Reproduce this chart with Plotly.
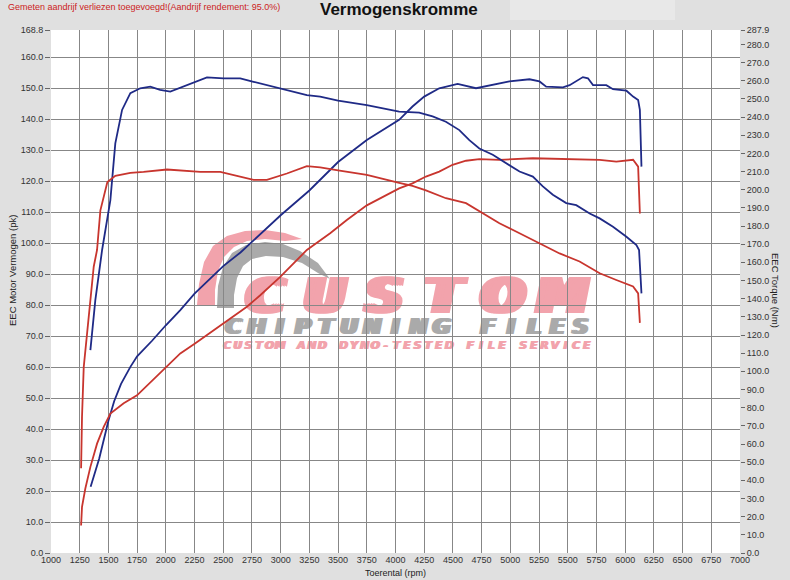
import plotly.graph_objects as go

# --- data ---
# torque curves (right axis, Nm)
blue_tq_rpm = [1343, 1386, 1445, 1517, 1560, 1619, 1691, 1777, 1865, 1950, 2039, 2184, 2358, 2503, 2648,
               2764, 2880, 3054, 3228, 3344, 3500, 3750, 4032, 4206, 4323, 4439, 4556, 4643, 4730, 4847,
               4963, 5080, 5196, 5283, 5370, 5487, 5574, 5691, 5778, 5894, 6011, 6098, 6121, 6133, 6142]
blue_tq_nm = [111.7, 139.2, 166.8, 194.3, 225.5, 243.9, 253.1, 255.8, 256.7, 255.0, 254.0, 257.5, 261.8, 261.3, 261.3,
              259.4, 257.5, 254.8, 252.1, 251.2, 249.0, 246.6, 243.0, 242.4, 240.3, 237.4, 232.8, 227.3, 222.7, 219.2,
              214.6, 210.0, 207.2, 201.8, 197.2, 192.6, 191.5, 186.9, 184.2, 179.6, 174.1, 169.5, 166.8, 154.0, 142.9]

red_tq_rpm = [1262, 1270, 1285, 1299, 1328, 1372, 1401, 1430, 1491, 1560, 1691, 1806, 2010, 2300, 2474,
              2648, 2764, 2880, 3054, 3228, 3344, 3500, 3750, 4032, 4148, 4265, 4439, 4614, 4730, 4905,
              5080, 5254, 5429, 5603, 5778, 5923, 6069, 6113, 6128]
red_tq_nm = [46.6, 74.9, 102.3, 111.7, 130.0, 157.6, 166.8, 188.6, 204.2, 207.6, 209.3, 209.8, 211.1, 209.8, 209.8,
             207.1, 205.4, 205.4, 208.9, 213.0, 212.3, 210.6, 208.1, 203.8, 202.1, 199.6, 195.3, 192.6, 188.0, 181.5,
             176.0, 170.6, 164.9, 160.5, 154.0, 150.3, 146.7, 142.9, 126.7]

# power curves (left axis, pk)
blue_pk_rpm = [1345, 1420, 1500, 1550, 1610, 1690, 1750, 1880, 2000, 2126, 2250, 2500, 2650, 3000, 3250,
               3500, 3750, 4032, 4148, 4250, 4381, 4541, 4701, 4905, 4992, 5167, 5254, 5312, 5458, 5516,
               5632, 5676, 5720, 5836, 5894, 6011, 6069, 6113, 6128, 6142]
blue_pk = [21.4, 30.5, 42.7, 49.0, 54.6, 60.0, 63.5, 68.5, 73.5, 78.4, 83.7, 92.6, 97.0, 109.0, 117.0,
           126.2, 133.3, 139.8, 144.1, 147.3, 150.0, 151.4, 150.0, 151.4, 152.2, 152.9, 152.2, 150.5, 150.3, 151.0,
           153.6, 153.2, 151.0, 151.0, 149.7, 149.2, 147.3, 146.2, 143.0, 124.7]

red_pk_rpm = [1262, 1270, 1299, 1343, 1401, 1459, 1517, 1633, 1749, 2004, 2126, 2254, 2503, 2706, 2822,
              2996, 3228, 3431, 3576, 3750, 4032, 4148, 4265, 4381, 4497, 4614, 4730, 4905, 5196, 5487,
              5778, 5923, 6069, 6113, 6128]
red_pk = [8.9, 14.9, 20.8, 27.8, 35.3, 40.7, 45.0, 48.3, 50.9, 60.1, 64.4, 67.6, 74.1, 79.5, 83.2,
          89.1, 97.8, 103.2, 107.5, 112.2, 117.7, 119.3, 121.5, 123.1, 125.3, 126.6, 127.1, 126.9, 127.4, 127.2,
          126.9, 126.3, 126.9, 124.7, 109.6]

# axis ticks
x_ticks = list(range(1000, 7001, 250))
y_ticks = [i * 10 for i in range(17)] + [168.8]
y2_ticks = [i * 10 for i in range(29)] + [287.9]

BLUE = "#1f2a86"
RED = "#c8352e"
FONT = "Liberation Sans, Arial, sans-serif"

# plot area in pixels
L, T, W, H = 51, 30, 689, 523


def paper(px, py):
    return (px - L) / W, (T + H - py) / H


fig = go.Figure()

fig.add_trace(go.Scatter(x=blue_tq_rpm, y=blue_tq_nm, mode="lines", yaxis="y2",
                         line=dict(color=BLUE, width=1.8), name="Torque"))
fig.add_trace(go.Scatter(x=red_tq_rpm, y=red_tq_nm, mode="lines", yaxis="y2",
                         line=dict(color=RED, width=1.8), name="Torque stock"))
fig.add_trace(go.Scatter(x=blue_pk_rpm, y=blue_pk, mode="lines",
                         line=dict(color=BLUE, width=1.8), name="Vermogen"))
fig.add_trace(go.Scatter(x=red_pk_rpm, y=red_pk, mode="lines",
                         line=dict(color=RED, width=1.8), name="Vermogen stock"))

shapes = []

# lighter patch at top right of the sheet
shapes.append(dict(type="rect", xref="paper", yref="paper", layer="below",
                   x0=paper(510, 0)[0], x1=paper(675, 0)[0], y0=paper(0, 20)[1], y1=paper(0, -2)[1],
                   fillcolor="#e8e8e8", line=dict(width=0)))


def poly(points, color):
    pts = [paper(px, py) for px, py in points]
    d = "M " + " L ".join(f"{x:.4f},{y:.4f}" for x, y in pts) + " Z"
    return dict(type="path", path=d, xref="paper", yref="paper", layer="below",
                fillcolor=color, line=dict(width=0))


# watermark logo swoosh
shapes.append(poly([(197, 305), (199, 284), (204, 262), (213, 246), (227, 236), (245, 231), (265, 230),
                    (285, 233), (302, 239), (285, 241), (265, 239), (247, 241), (234, 247), (224, 257),
                    (218, 271), (215, 290), (215, 305)], "#f2a3ac"))
shapes.append(poly([(217, 308), (218, 286), (223, 267), (232, 253), (246, 245), (265, 242), (283, 244),
                    (300, 251), (318, 263), (330, 279), (318, 273), (302, 263), (283, 257), (266, 256),
                    (252, 259), (243, 266), (237, 278), (234, 295), (234, 308)], "#aaaaaa"))


def letters(text, x_start, x_end, y, size, color, smear):
    # each glyph drawn a few times side by side to get the wide logo lettering
    step = (x_end - x_start) / len(text)
    for i, ch in enumerate(text):
        if ch == " ":
            continue
        cx = x_start + step * (i + 0.5)
        for dx in smear:
            x0, y0 = paper(cx + dx - step / 2, y + size / 2)
            x1, y1 = paper(cx + dx + step / 2, y - size / 2)
            shapes.append(dict(type="rect", xref="paper", yref="paper", layer="below",
                               x0=x0, x1=x1, y0=y0, y1=y1,
                               fillcolor="rgba(0,0,0,0)", line=dict(width=0),
                               label=dict(text=ch, textposition="middle center",
                                          font=dict(family="DejaVu Sans", size=size, color=color,
                                                    weight="bold", style="italic"))))


letters("CUSTOM", 236, 592, 292, 50, "#f2a3ac", [-5, -2.5, 0, 2.5, 5])
letters("CHIPTUNING FILES", 222, 592, 324, 22, "#aaaaaa", [-2, 0, 2])
letters("CUSTOM AND DYNO-TESTED FILE SERVICE", 222, 592, 344, 11, "#f2a3ac", [-0.8, 0, 0.8])

annotations = [
    dict(text="<b>Vermogenskromme</b>", x=paper(399, 0)[0], y=paper(0, 10)[1],
         xref="paper", yref="paper", showarrow=False, xanchor="center", yanchor="middle",
         font=dict(family=FONT, size=17, color="#111111")),
    dict(text="Gemeten aandrijf verliezen toegevoegd!(Aandrijf rendement: 95.0%)",
         x=paper(6, 0)[0], y=paper(0, 7)[1], xref="paper", yref="paper", showarrow=False,
         xanchor="left", yanchor="middle", font=dict(family=FONT, size=9, color="#cc2222")),
    dict(text="Toerental (rpm)", x=paper(395, 0)[0], y=paper(0, 573)[1],
         xref="paper", yref="paper", showarrow=False, xanchor="center", yanchor="middle",
         font=dict(family=FONT, size=9, color="#222222")),
    dict(text="EEC Motor Vermogen (pk)", x=paper(12, 0)[0], y=paper(0, 271)[1], textangle=-90,
         xref="paper", yref="paper", showarrow=False, xanchor="center", yanchor="middle",
         font=dict(family=FONT, size=9.5, color="#222222")),
    dict(text="EEC Torque (Nm)", x=paper(776, 0)[0], y=paper(0, 290)[1], textangle=90,
         xref="paper", yref="paper", showarrow=False, xanchor="center", yanchor="middle",
         font=dict(family=FONT, size=9.5, color="#222222")),
]

grid = "#878787"
fig.update_layout(
    width=790, height=580,
    margin=dict(l=L, r=790 - L - W, t=T, b=580 - T - H, autoexpand=False),
    paper_bgcolor="#e0e0e0", plot_bgcolor="white",
    showlegend=False,
    font=dict(family=FONT, size=9, color="#333333"),
    xaxis=dict(range=[1000, 7000], tickvals=x_ticks, ticks="", showgrid=False, zeroline=False,
               showline=False, automargin=False, tickfont=dict(size=9),
               minor=dict(tickvals=x_ticks[1:-1], showgrid=True, gridcolor=grid, gridwidth=1, ticks="")),
    yaxis=dict(range=[0, 168.8], tickvals=y_ticks, tickformat=".1f", ticks="outside", ticklen=5,
               tickcolor="#666666", showgrid=False, zeroline=False, showline=False, automargin=False,
               minor=dict(tickvals=y_ticks[1:-1], showgrid=True, gridcolor=grid, gridwidth=1, ticks="")),
    yaxis2=dict(range=[0, 287.9], overlaying="y", side="right", tickvals=y2_ticks, tickformat=".1f",
                ticks="outside", ticklen=4, tickcolor="#666666", showgrid=False, zeroline=False,
                showline=False, automargin=False),
    shapes=shapes,
    annotations=annotations,
)

# the page body has a default 8px margin; drop it so the figure fills the window
fig.write_html("out.html", config={"displayModeBar": False},
               post_script="document.body.style.margin='0';")
